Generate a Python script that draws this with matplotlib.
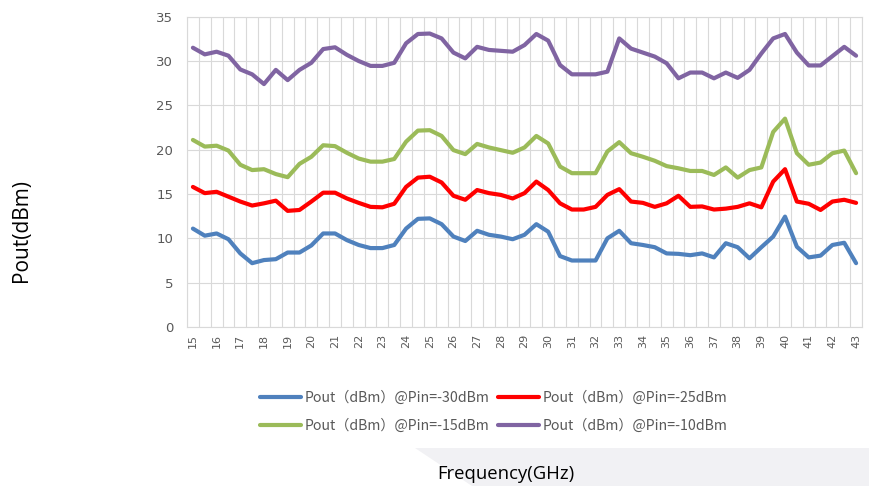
import numpy as np
import matplotlib
matplotlib.use('Agg')
import matplotlib.pyplot as plt
import matplotlib.patches as patches

# frequency categories, 15 to 43 GHz in 0.5 GHz steps
freq = [15 + 0.5 * i for i in range(57)]

pin_30 = [11.1, 10.3, 10.55, 9.9, 8.3, 7.2, 7.55, 7.65, 8.4, 8.4, 9.2, 10.55, 10.55, 9.8, 9.25, 8.9, 8.9, 9.25, 11.1,
          12.2, 12.25, 11.6, 10.2, 9.7, 10.85, 10.4, 10.2, 9.9, 10.4, 11.6, 10.75, 8.0, 7.5, 7.5, 7.5, 10.0, 10.85, 9.45,
          9.25, 9.0, 8.3, 8.25, 8.1, 8.3, 7.85, 9.45, 9.0, 7.75, 9.0, 10.2, 12.45, 9.05, 7.85, 8.05, 9.25, 9.5, 7.2]
pin_25 = [15.8, 15.1, 15.25, 14.7, 14.15, 13.7, 13.95, 14.25, 13.1, 13.2, 14.15, 15.15, 15.15, 14.5, 14.0, 13.55, 13.5, 13.9, 15.8,
          16.85, 16.95, 16.3, 14.8, 14.35, 15.45, 15.1, 14.9, 14.5, 15.1, 16.4, 15.45, 13.95, 13.25, 13.25, 13.55, 14.9, 15.55, 14.15,
          14.0, 13.55, 13.95, 14.8, 13.55, 13.6, 13.25, 13.35, 13.55, 13.95, 13.5, 16.4, 17.8, 14.15, 13.9, 13.2, 14.15, 14.35, 14.0]
pin_15 = [21.1, 20.35, 20.45, 19.9, 18.3, 17.7, 17.8, 17.25, 16.9, 18.4, 19.2, 20.5, 20.4, 19.65, 19.0, 18.65, 18.65, 18.95, 20.9,
          22.15, 22.2, 21.55, 19.95, 19.5, 20.65, 20.25, 19.95, 19.65, 20.25, 21.55, 20.7, 18.1, 17.35, 17.35, 17.35, 19.8, 20.85, 19.6,
          19.2, 18.75, 18.15, 17.9, 17.6, 17.6, 17.15, 18.0, 16.85, 17.7, 18.0, 22.0, 23.5, 19.6, 18.3, 18.55, 19.6, 19.9, 17.35]
pin_10 = [31.5, 30.75, 31.05, 30.6, 29.05, 28.5, 27.4, 29.0, 27.85, 29.0, 29.8, 31.35, 31.55, 30.7, 30.0, 29.45, 29.45, 29.8, 32.0,
          33.05, 33.1, 32.55, 30.95, 30.3, 31.6, 31.25, 31.15, 31.05, 31.8, 33.05, 32.3, 29.55, 28.5, 28.5, 28.5, 28.8, 32.55, 31.4,
          30.95, 30.5, 29.75, 28.05, 28.7, 28.7, 28.05, 28.7, 28.1, 29.0, 30.85, 32.55, 33.05, 30.95, 29.5, 29.5, 30.55, 31.6, 30.6]

series = [
    (pin_30, '#4f81bd', 'Pout（dBm）@Pin=-30dBm'),
    (pin_25, '#ff0000', 'Pout（dBm）@Pin=-25dBm'),
    (pin_15, '#9bbb59', 'Pout（dBm）@Pin=-15dBm'),
    (pin_10, '#8064a2', 'Pout（dBm）@Pin=-10dBm'),
]

fig = plt.figure(figsize=(8.7, 4.86), dpi=100)

# light grey band behind the x axis title
band = patches.Polygon([(415 / 870, 38 / 486), (1.0, 38 / 486), (1.0, 0.0), (472 / 870, 0.0)],
                       closed=True, transform=fig.transFigure, facecolor='#f1f1f4', edgecolor='none', zorder=0)
fig.patches.append(band)

ax = fig.add_axes([187 / 870, 1 - 327 / 486, 675 / 870, 310.3 / 486])

x = np.arange(len(freq))
handles = []
for vals, col, lab in series:
    h, = ax.plot(x, vals, color=col, lw=3, label=lab, solid_capstyle='round', solid_joinstyle='round')
    handles.append(h)

ax.set_xlim(-0.5, len(freq) - 0.5)
ax.set_ylim(0, 35)
ax.set_yticks(np.arange(0, 36, 5))

ax.set_xticks(x[::2])
ax.set_xticklabels([str(int(f)) for f in freq[::2]], rotation=90, fontsize=8, color='#595959')
ax.set_xticks(np.arange(-0.5, len(freq), 1), minor=True)
ax.tick_params(axis='x', which='both', length=0, pad=5)
ax.tick_params(axis='y', length=0, labelsize=9.5, labelcolor='#595959', pad=10)

ax.grid(False)
ax.grid(True, which='minor', axis='x', color='#d9d9d9', lw=0.8)
ax.grid(True, which='major', axis='y', color='#d9d9d9', lw=0.8)
ax.set_axisbelow(True)
for s in ax.spines.values():
    s.set_color('#d9d9d9')
    s.set_linewidth(0.8)

# row-wise legend order: -30, -25 / -15, -10
order = [0, 2, 1, 3]
leg = fig.legend([handles[i] for i in order], [series[i][2] for i in order],
                 loc='center', bbox_to_anchor=(494 / 870, 1 - 412 / 486), ncol=2, frameon=False,
                 handlelength=2.9, columnspacing=0.6, handletextpad=0.25, labelspacing=1.0,
                 prop={'family': ['Noto Sans CJK SC', 'DejaVu Sans'], 'size': 10.2})
for t in leg.get_texts():
    t.set_color('#595959')

fig.text(22 / 870, 1 - 230 / 486, 'Pout(dBm)', rotation=90, ha='center', va='center',
         fontsize=15, family='Open Sans')
fig.text(506 / 870, 1 - 474 / 486, 'Frequency(GHz)', ha='center', va='center',
         fontsize=13.3, family='Open Sans')

fig.savefig('out.png', dpi=100)
